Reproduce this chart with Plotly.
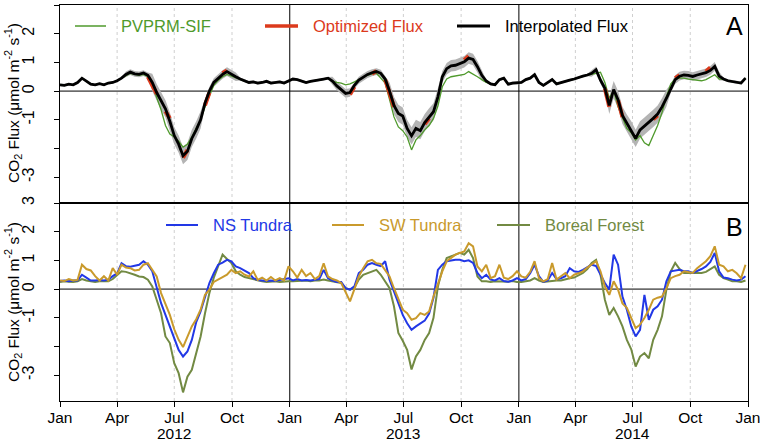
import numpy as np
import pandas as pd
import plotly.graph_objects as go
from plotly.subplots import make_subplots

# weekly sample dates (2012-01-01 .. 2014-12-28)
dates = pd.date_range("2012-01-01", periods=157, freq="7D")

# ---------------- Panel A ----------------
interp_2012 = [0.22, 0.20, 0.24, 0.22, 0.30, 0.45, 0.35, 0.24, 0.22, 0.26, 0.22, 0.28, 0.30,
               0.36, 0.45, 0.58, 0.66, 0.60, 0.58, 0.63, 0.55, 0.30, -0.05, -0.35, -0.62, -1.05,
               -1.55, -1.85, -2.25, -2.10, -1.65, -1.35, -1.00, -0.42, 0.00, 0.30, 0.45, 0.58,
               0.68, 0.58, 0.50, 0.42, 0.35, 0.30, 0.32, 0.28, 0.30, 0.34, 0.28, 0.30, 0.32, 0.28]
interp_2013 = [0.36, 0.42, 0.40, 0.34, 0.30, 0.34, 0.36, 0.38, 0.42, 0.45, 0.35, 0.18, 0.05,
               -0.08, -0.05, 0.20, 0.38, 0.48, 0.58, 0.64, 0.68, 0.62, 0.42, 0.00, -0.50, -0.78,
               -0.87, -1.30, -1.56, -1.30, -1.38, -1.10, -0.90, -0.72, -0.20, 0.50, 0.78, 0.88,
               0.90, 0.95, 1.02, 1.15, 1.10, 0.85, 0.55, 0.35, 0.25, 0.22, 0.40, 0.45, 0.24, 0.28, 0.28]
interp_2014 = [0.30, 0.40, 0.45, 0.57, 0.30, 0.20, 0.30, 0.40, 0.25, 0.30, 0.34, 0.38, 0.42,
               0.48, 0.52, 0.56, 0.62, 0.74, 0.38, 0.10, -0.50, 0.05, -0.30, -0.85, -1.12, -1.35,
               -1.65, -1.35, -1.22, -1.10, -0.95, -0.80, -0.55, -0.25, 0.10, 0.40, 0.52, 0.56,
               0.55, 0.51, 0.56, 0.60, 0.64, 0.72, 0.86, 0.52, 0.42, 0.36, 0.34, 0.30, 0.28, 0.45]

pvprm_2012 = [0.22, 0.20, 0.24, 0.22, 0.30, 0.45, 0.35, 0.24, 0.22, 0.26, 0.22, 0.28, 0.30,
              0.36, 0.45, 0.55, 0.62, 0.58, 0.55, 0.58, 0.50, 0.20, -0.25, -0.65, -1.20, -1.50,
              -1.60, -1.75, -1.95, -1.85, -1.60, -1.30, -1.00, -0.55, -0.15, 0.20, 0.38, 0.50,
              0.58, 0.52, 0.45, 0.40, 0.35, 0.30, 0.32, 0.28, 0.30, 0.34, 0.28, 0.30, 0.32, 0.28]
pvprm_2013 = [0.36, 0.42, 0.40, 0.34, 0.30, 0.34, 0.36, 0.38, 0.42, 0.45, 0.35, 0.30, 0.28,
              0.22, 0.25, 0.32, 0.40, 0.48, 0.56, 0.60, 0.62, 0.45, 0.28, -0.30, -0.90, -1.25,
              -1.38, -1.60, -2.05, -1.70, -1.55, -1.35, -1.20, -0.95, -0.52, 0.15, 0.42, 0.50,
              0.52, 0.55, 0.58, 0.68, 0.60, 0.50, 0.40, 0.30, 0.25, 0.22, 0.40, 0.45, 0.24, 0.28, 0.28]
pvprm_2014 = [0.30, 0.40, 0.45, 0.57, 0.30, 0.20, 0.30, 0.40, 0.25, 0.30, 0.34, 0.38, 0.42,
              0.48, 0.52, 0.56, 0.58, 0.62, 0.66, 0.30, -0.25, 0.02, -0.55, -0.90, -1.30, -1.45,
              -1.70, -1.55, -1.80, -1.90, -1.55, -1.20, -0.75, -0.20, 0.25, 0.42, 0.45, 0.45,
              0.42, 0.40, 0.38, 0.36, 0.40, 0.50, 0.57, 0.42, 0.42, 0.36, 0.34, 0.30, 0.28, 0.45]

N = None
optim_2012 = [N]*20 + [0.50, 0.22, -0.10, N, -0.70, -0.95, N, N, -2.32, -2.05, N, N, N,
              -0.50, -0.05, N, N, 0.62, 0.72, N, N] + [N]*11
optim_2013 = [N]*14 + [-0.12, 0.15, N, N, N, 0.60, 0.70, N, 0.40, -0.05, -0.55, N,
              N, N, N, N, N, -1.15, -0.95, N, N, N, N, N, N, N, 1.08, 1.22, N] + [N]*10
optim_2014 = [N]*19 + [0.08, -0.55, N, -0.32, -0.90, N, N, -1.70, N, N, N, -0.98, -0.85,
              N, N, N, 0.45, 0.55, N, N, N, N, N, 0.68, 0.82, N] + [N]*7

unc_2012 = [0.04]*15 + [0.10]*6 + [0.30]*12 + [0.15]*8 + [0.05]*11
unc_2013 = [0.04]*10 + [0.15]*5 + [0.12]*8 + [0.30]*12 + [0.20]*10 + [0.05]*8
unc_2014 = [0.04]*16 + [0.12]*4 + [0.30]*14 + [0.15]*12 + [0.05]*6

# ---------------- Panel B ----------------
ns_2012 = [0.28, 0.30, 0.27, 0.30, 0.30, 0.50, 0.40, 0.30, 0.30, 0.32, 0.30, 0.33, 0.45,
           0.55, 0.90, 0.80, 0.78, 0.82, 0.85, 0.97, 0.85, 0.62, 0.10, -0.49, -0.90, -1.30,
           -1.77, -2.12, -2.35, -2.17, -1.77, -1.15, -0.78, -0.26, 0.21, 0.55, 0.85, 0.92,
           1.02, 0.97, 0.79, 0.73, 0.65, 0.56, 0.38, 0.32, 0.30, 0.28, 0.30, 0.28, 0.32, 0.35]
ns_2013 = [0.38, 0.30, 0.35, 0.30, 0.32, 0.30, 0.33, 0.35, 0.67, 0.38, 0.30, 0.25, 0.25,
           0.03, -0.02, 0.10, 0.56, 0.67, 0.85, 0.91, 0.85, 0.80, 0.97, 0.33, -0.08, -0.49,
           -0.90, -1.19, -1.42, -1.30, -1.19, -1.10, -0.85, -0.30, 0.67, 0.85, 0.97, 1.00,
           1.02, 1.02, 0.97, 1.00, 0.91, 0.56, 0.38, 0.50, 0.33, 0.30, 0.38, 0.28, 0.26, 0.30, 0.38]
ns_2014 = [0.30, 0.35, 0.55, 0.85, 0.45, 0.25, 0.30, 0.56, 0.35, 0.38, 0.45, 0.73, 0.62,
           0.60, 0.67, 0.75, 0.85, 0.80, 0.50, 0.21, -0.02, 1.20, 0.85, -0.26, -0.72, -1.30,
           -1.65, -1.42, -0.20, -1.07, -0.72, -0.60, -0.37, 0.27, 0.62, 0.65, 0.67, 0.62,
           0.62, 0.56, 0.62, 0.70, 0.79, 0.95, 1.26, 0.62, 0.40, 0.38, 0.33, 0.30, 0.33, 0.45]

sw_2012 = [0.30, 0.28, 0.35, 0.30, 0.32, 0.85, 0.70, 0.65, 0.45, 0.30, 0.45, 0.30, 0.73,
           0.50, 0.85, 0.75, 0.73, 0.65, 0.67, 0.85, 0.90, 0.67, 0.44, -0.14, -0.49, -0.90,
           -1.40, -1.77, -2.02, -1.65, -1.30, -1.05, -0.72, -0.20, -0.02, 0.25, 0.35, 0.42,
           0.50, 0.67, 0.56, 0.62, 0.50, 0.44, 0.62, 0.32, 0.40, 0.30, 0.42, 0.30, 0.38, 0.30]
sw_2013 = [0.79, 0.62, 0.40, 0.67, 0.45, 0.56, 0.35, 0.45, 0.90, 0.44, 0.35, 0.30, 0.21,
           -0.14, -0.43, 0.00, 0.44, 0.73, 0.97, 1.02, 0.90, 0.88, 0.67, 0.44, 0.03, -0.37,
           -0.72, -0.84, -1.07, -1.01, -0.84, -0.90, -0.78, -0.26, 0.21, 0.62, 0.97, 1.10,
           1.20, 1.26, 1.31, 1.60, 1.49, 0.79, 0.62, 0.85, 0.38, 0.45, 0.85, 0.40, 0.35, 0.45, 0.62]
sw_2014 = [0.44, 0.40, 0.60, 0.97, 0.38, 0.27, 0.35, 0.91, 0.33, 0.45, 0.56, 0.38, 0.50,
           0.55, 0.62, 0.75, 0.85, 0.97, 0.62, 0.09, -0.20, 0.27, -0.02, -0.50, -0.65, -1.00,
           -1.36, -1.24, -1.01, -0.72, -0.37, -0.30, -0.26, 0.03, 0.38, 0.45, 0.50, 0.62,
           0.58, 0.56, 0.73, 0.85, 0.97, 1.15, 1.49, 0.85, 0.79, 0.62, 0.67, 0.55, 0.38, 0.85]

bf_2012 = [0.25, 0.27, 0.26, 0.25, 0.27, 0.35, 0.30, 0.27, 0.25, 0.27, 0.26, 0.27, 0.35,
           0.50, 0.62, 0.60, 0.56, 0.50, 0.44, 0.42, 0.33, 0.09, -0.37, -0.84, -1.65, -1.88,
           -2.58, -2.93, -3.60, -3.05, -2.81, -2.20, -1.65, -0.84, -0.14, 0.40, 0.80, 1.20,
           1.05, 0.91, 0.62, 0.50, 0.42, 0.38, 0.33, 0.30, 0.27, 0.25, 0.26, 0.27, 0.25, 0.27]
bf_2013 = [0.27, 0.27, 0.28, 0.27, 0.30, 0.27, 0.30, 0.30, 0.33, 0.30, 0.27, 0.25, 0.21,
           0.03, -0.02, 0.05, 0.33, 0.50, 0.56, 0.62, 0.67, 0.50, 0.27, 0.03, -0.60, -1.53,
           -1.80, -2.12, -2.80, -2.35, -2.12, -1.77, -1.53, -1.00, 0.09, 0.67, 1.08, 1.15,
           1.20, 1.26, 1.20, 1.37, 1.08, 0.44, 0.27, 0.27, 0.25, 0.27, 0.27, 0.25, 0.26, 0.28, 0.25]
bf_2014 = [0.25, 0.27, 0.30, 0.38, 0.30, 0.25, 0.27, 0.27, 0.30, 0.30, 0.35, 0.38, 0.40,
           0.48, 0.56, 0.70, 0.91, 1.02, 0.50, -0.37, -0.90, -0.66, -0.95, -1.30, -1.77, -2.10,
           -2.70, -2.35, -2.23, -2.41, -1.77, -1.42, -0.95, -0.02, 0.62, 0.91, 0.70, 0.56,
           0.56, 0.56, 0.56, 0.56, 0.60, 0.70, 0.79, 0.50, 0.38, 0.33, 0.27, 0.27, 0.25, 0.30]

interp = np.array(interp_2012 + interp_2013 + interp_2014)
pvprm = np.array(pvprm_2012 + pvprm_2013 + pvprm_2014)
optim = optim_2012 + optim_2013 + optim_2014
unc = np.array(unc_2012 + unc_2013 + unc_2014)
ns = ns_2012 + ns_2013 + ns_2014
sw = sw_2012 + sw_2013 + sw_2014
bf = bf_2012 + bf_2013 + bf_2014
for arr in (interp, pvprm, optim, unc, ns, sw, bf):
    assert len(arr) == len(dates), len(arr)

tick_dates = ["2012-01-01", "2012-04-01", "2012-07-01", "2012-10-01",
              "2013-01-01", "2013-04-01", "2013-07-01", "2013-10-01",
              "2014-01-01", "2014-04-01", "2014-07-01", "2014-10-01", "2015-01-01"]
tick_text = ["Jan", "Apr", "Jul", "Oct", "Jan", "Apr", "Jul", "Oct",
             "Jan", "Apr", "Jul", "Oct", "Jan"]
year_dates = ["2012-07-01", "2013-07-01", "2014-07-01"]
year_text = ["2012", "2013", "2014"]
y_ticks = [-3, -1, 0, 1, 2, 3]
y_tick_text = ["-3", "-1", "0", "1", "2", "3"]
y_minor_ticks = [-2]

GREEN = "#4f9a2c"
RED = "#dc3a1c"
GRAY = "#b4b4b4"
BLUE = "#2238e6"
GOLD = "#c99a2c"
OLIVE = "#728a43"

fig = make_subplots(rows=2, cols=1, shared_xaxes=True, vertical_spacing=0)

# Panel A
fig.add_trace(go.Scatter(x=dates, y=interp + unc, mode="lines", line=dict(width=0, color=GRAY),
                         hoverinfo="skip", showlegend=False), row=1, col=1)
fig.add_trace(go.Scatter(x=dates, y=interp - unc, mode="lines", line=dict(width=0, color=GRAY),
                         fill="tonexty", fillcolor=GRAY, hoverinfo="skip", showlegend=False), row=1, col=1)
fig.add_trace(go.Scatter(x=dates, y=pvprm, mode="lines", line=dict(width=1.3, color=GREEN),
                         showlegend=False), row=1, col=1)
fig.add_trace(go.Scatter(x=dates, y=optim, mode="lines", line=dict(width=4, color=RED),
                         connectgaps=False, showlegend=False), row=1, col=1)
fig.add_trace(go.Scatter(x=dates, y=interp, mode="lines", line=dict(width=2.8, color="black"),
                         showlegend=False), row=1, col=1)

# Panel B
fig.add_trace(go.Scatter(x=dates, y=bf, mode="lines", line=dict(width=2, color=OLIVE),
                         showlegend=False), row=2, col=1)
fig.add_trace(go.Scatter(x=dates, y=ns, mode="lines", line=dict(width=2, color=BLUE),
                         showlegend=False), row=2, col=1)
fig.add_trace(go.Scatter(x=dates, y=sw, mode="lines", line=dict(width=2, color=GOLD),
                         showlegend=False), row=2, col=1)

# grid lines
shapes = []
for xref, yref, yr in (("x", "y domain", "y"), ("x2", "y2 domain", "y2")):
    for d in tick_dates[1:-1]:
        if d.endswith("01-01"):
            shapes.append(dict(type="line", xref=xref, yref=yref, x0=d, x1=d, y0=0, y1=1,
                               line=dict(color="black", width=1), layer="below"))
        else:
            shapes.append(dict(type="line", xref=xref, yref=yref, x0=d, x1=d, y0=0, y1=1,
                               line=dict(color="#cfcfcf", width=1, dash="dot"), layer="below"))
    shapes.append(dict(type="line", xref=xref + " domain", yref=yr,
                       x0=0, x1=1, y0=0, y1=0, line=dict(color="black", width=1), layer="below"))

# legends (drawn as shapes + annotations)
W, H = 762, 441
L, R, T, B = 60, 14, 5, 40
pw, ph = W - L - R, H - T - B

def px(x):
    return (x - L) / pw

def py(y):
    return 1 - (y - T) / ph

annotations = []
leg_items = [
    (26, 75, 106, "PVPRM-SIF", GREEN, 1.5),
    (26, 265, 298, "Optimized Flux", RED, 3.5),
    (26, 457, 490, "Interpolated Flux", "black", 3),
    (225, 166, 198, "NS Tundra", BLUE, 2),
    (225, 332, 364, "SW Tundra", GOLD, 2),
    (225, 497, 530, "Boreal Forest", OLIVE, 2),
]
for yy, x0, x1, label, col, wd in leg_items:
    shapes.append(dict(type="line", xref="paper", yref="paper", x0=px(x0), x1=px(x1),
                       y0=py(yy), y1=py(yy), line=dict(color=col, width=wd)))
    annotations.append(dict(xref="paper", yref="paper", x=px(x1 + 13), y=py(yy), text=label,
                            showarrow=False, xanchor="left", yanchor="middle",
                            font=dict(size=16.5, color=col)))
annotations.append(dict(xref="paper", yref="paper", x=px(745), y=py(26), text="A",
                        showarrow=False, xanchor="right", yanchor="middle",
                        font=dict(size=25, color="black")))
annotations.append(dict(xref="paper", yref="paper", x=px(745), y=py(227), text="B",
                        showarrow=False, xanchor="right", yanchor="middle",
                        font=dict(size=25, color="black")))

ytitle = "CO<sub>2</sub> Flux (μmol m<sup>-2</sup> s<sup>-1</sup>)"
for yy in (103, 302):
    annotations.append(dict(xref="paper", yref="paper", x=px(13), y=py(yy), text=ytitle,
                            showarrow=False, textangle=-90, xanchor="center", yanchor="middle",
                            font=dict(size=15.5, color="black")))

for d, t in zip(year_dates, year_text):
    annotations.append(dict(xref="x2", yref="paper", x=d, y=py(434), text=t,
                            showarrow=False, xanchor="center", yanchor="middle",
                            font=dict(size=15.5, color="black")))

axis_common = dict(showline=True, linecolor="black", linewidth=1, mirror=True,
                   showgrid=False, zeroline=False, automargin=False)
fig.update_xaxes(range=["2012-01-01", "2015-01-01"], tickmode="array", tickvals=tick_dates,
                 ticktext=tick_text, **axis_common)
fig.update_xaxes(showticklabels=False, ticks="", row=1, col=1)
fig.update_xaxes(ticks="outside", ticklen=5, tickcolor="black",
                 tickfont=dict(size=15.5, color="black"),
                 ticklabelstandoff=-3, row=2, col=1)
fig.update_yaxes(range=[-3.9, 3.0], tickmode="array", tickvals=y_ticks, ticktext=y_tick_text,
                 ticks="outside", ticklen=5, tickcolor="black", tickangle=-90,
                 ticklabelstandoff=14, tickfont=dict(size=16, color="black"),
                 minor=dict(tickmode="array", tickvals=y_minor_ticks, ticks="outside",
                            ticklen=5, tickcolor="black", showgrid=False),
                 **axis_common)

fig.update_layout(width=W, height=H, margin=dict(l=L, r=R, t=T, b=B, autoexpand=False),
                  plot_bgcolor="white", paper_bgcolor="white",
                  font=dict(family="Liberation Sans, Arial, sans-serif"),
                  shapes=shapes, annotations=annotations, showlegend=False)

fig.write_html("out.html", config={"displayModeBar": False},
               post_script="document.body.style.margin='0';document.body.style.overflow='hidden';")
